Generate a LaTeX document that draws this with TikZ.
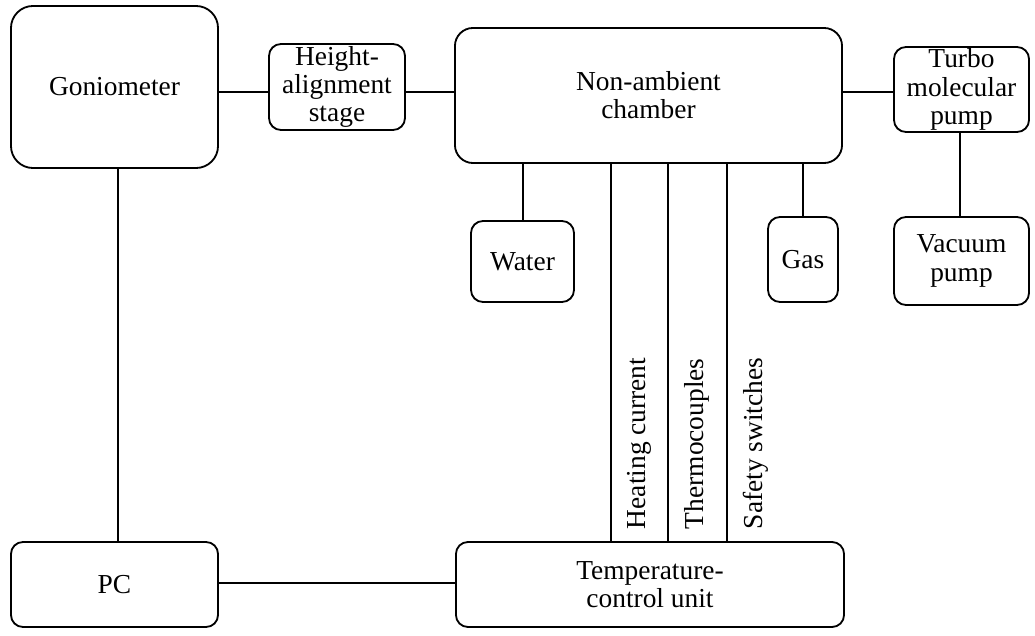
\documentclass[tikz,border=0pt]{standalone}
\usepackage{fontspec}
\setmainfont{Liberation Serif}

\begin{document}
\begin{tikzpicture}[x=0.025cm, y=-0.025cm, line width=1.3pt,
   box_style/.style={draw=black, rounded corners=0.3cm, inner sep=0pt, outer sep=0pt,
      align=center, font=\fontsize{19.5}{20}\selectfont},
   edge_style/.style={draw=black, line width=1.3pt},
   wire_label/.style={rotate=90, anchor=west, inner sep=0pt, font=\fontsize{19.5}{20}\selectfont}]
	\useasboundingbox (0,0) rectangle (1035,636);

	\node [box_style, rounded corners=0.55cm, minimum width=5.175cm, minimum height=4.05cm] (gonio) at (114.5,87) {Goniometer};
	\node [box_style, minimum width=3.4cm, minimum height=2.15cm] (height) at (337,87) {Height-\\alignment\\stage};
	\node [box_style, rounded corners=0.45cm, minimum width=9.675cm, minimum height=3.375cm] (chamber) at (648.5,95.5) {Non-ambient\\chamber};
	\node [box_style, minimum width=3.375cm, minimum height=2.125cm] (turbo) at (961.5,89.5) {Turbo\\molecular\\pump};
	\node [box_style, minimum width=2.575cm, minimum height=2.025cm] (water) at (522.5,261.5) {Water};
	\node [box_style, minimum width=1.75cm, minimum height=2.125cm] (gas) at (803,259.5) {Gas};
	\node [box_style, minimum width=3.375cm, minimum height=2.2cm] (vacuum) at (961.5,261) {Vacuum\\pump};
	\node [box_style, minimum width=5.175cm, minimum height=2.125cm] (pc) at (114.5,584.5) {PC};
	\node [box_style, minimum width=9.7cm, minimum height=2.125cm] (temp) at (650,584.5) {Temperature-\\control unit};

	% line positions
	\coordinate (level) at (0,92);
	\coordinate (low_level) at (0,583);
	\coordinate (gonio_x) at (118,0);
	\coordinate (water_x) at (523,0);
	\coordinate (pump_x) at (960,0);

	\foreach \from/\to in {gonio/height, height/chamber, chamber/turbo}
	  \draw [edge_style] (\from.east |- level) -- (\to.west |- level);

	\draw [edge_style] (turbo.south -| pump_x) -- (vacuum.north -| pump_x);
	\draw [edge_style] (gonio.south -| gonio_x) -- (pc.north -| gonio_x);
	\draw [edge_style] (pc.east |- low_level) -- (temp.west |- low_level);
	\draw [edge_style] (chamber.south -| water_x) -- (water.north -| water_x);
	\draw [edge_style] (chamber.south -| gas) -- (gas);

	\foreach \xpos/\name/\lbl in {611/heat/Heating current, 668/thermo/Thermocouples, 727/safety/Safety switches} {
	  \coordinate (\name) at (\xpos,0);
	  \draw [edge_style] (\name |- chamber.south) -- (\name |- temp.north);
	  \node [wire_label] (\name_label) at (\xpos+28.5,530) {\lbl};
	}

\end{tikzpicture}
\end{document}
